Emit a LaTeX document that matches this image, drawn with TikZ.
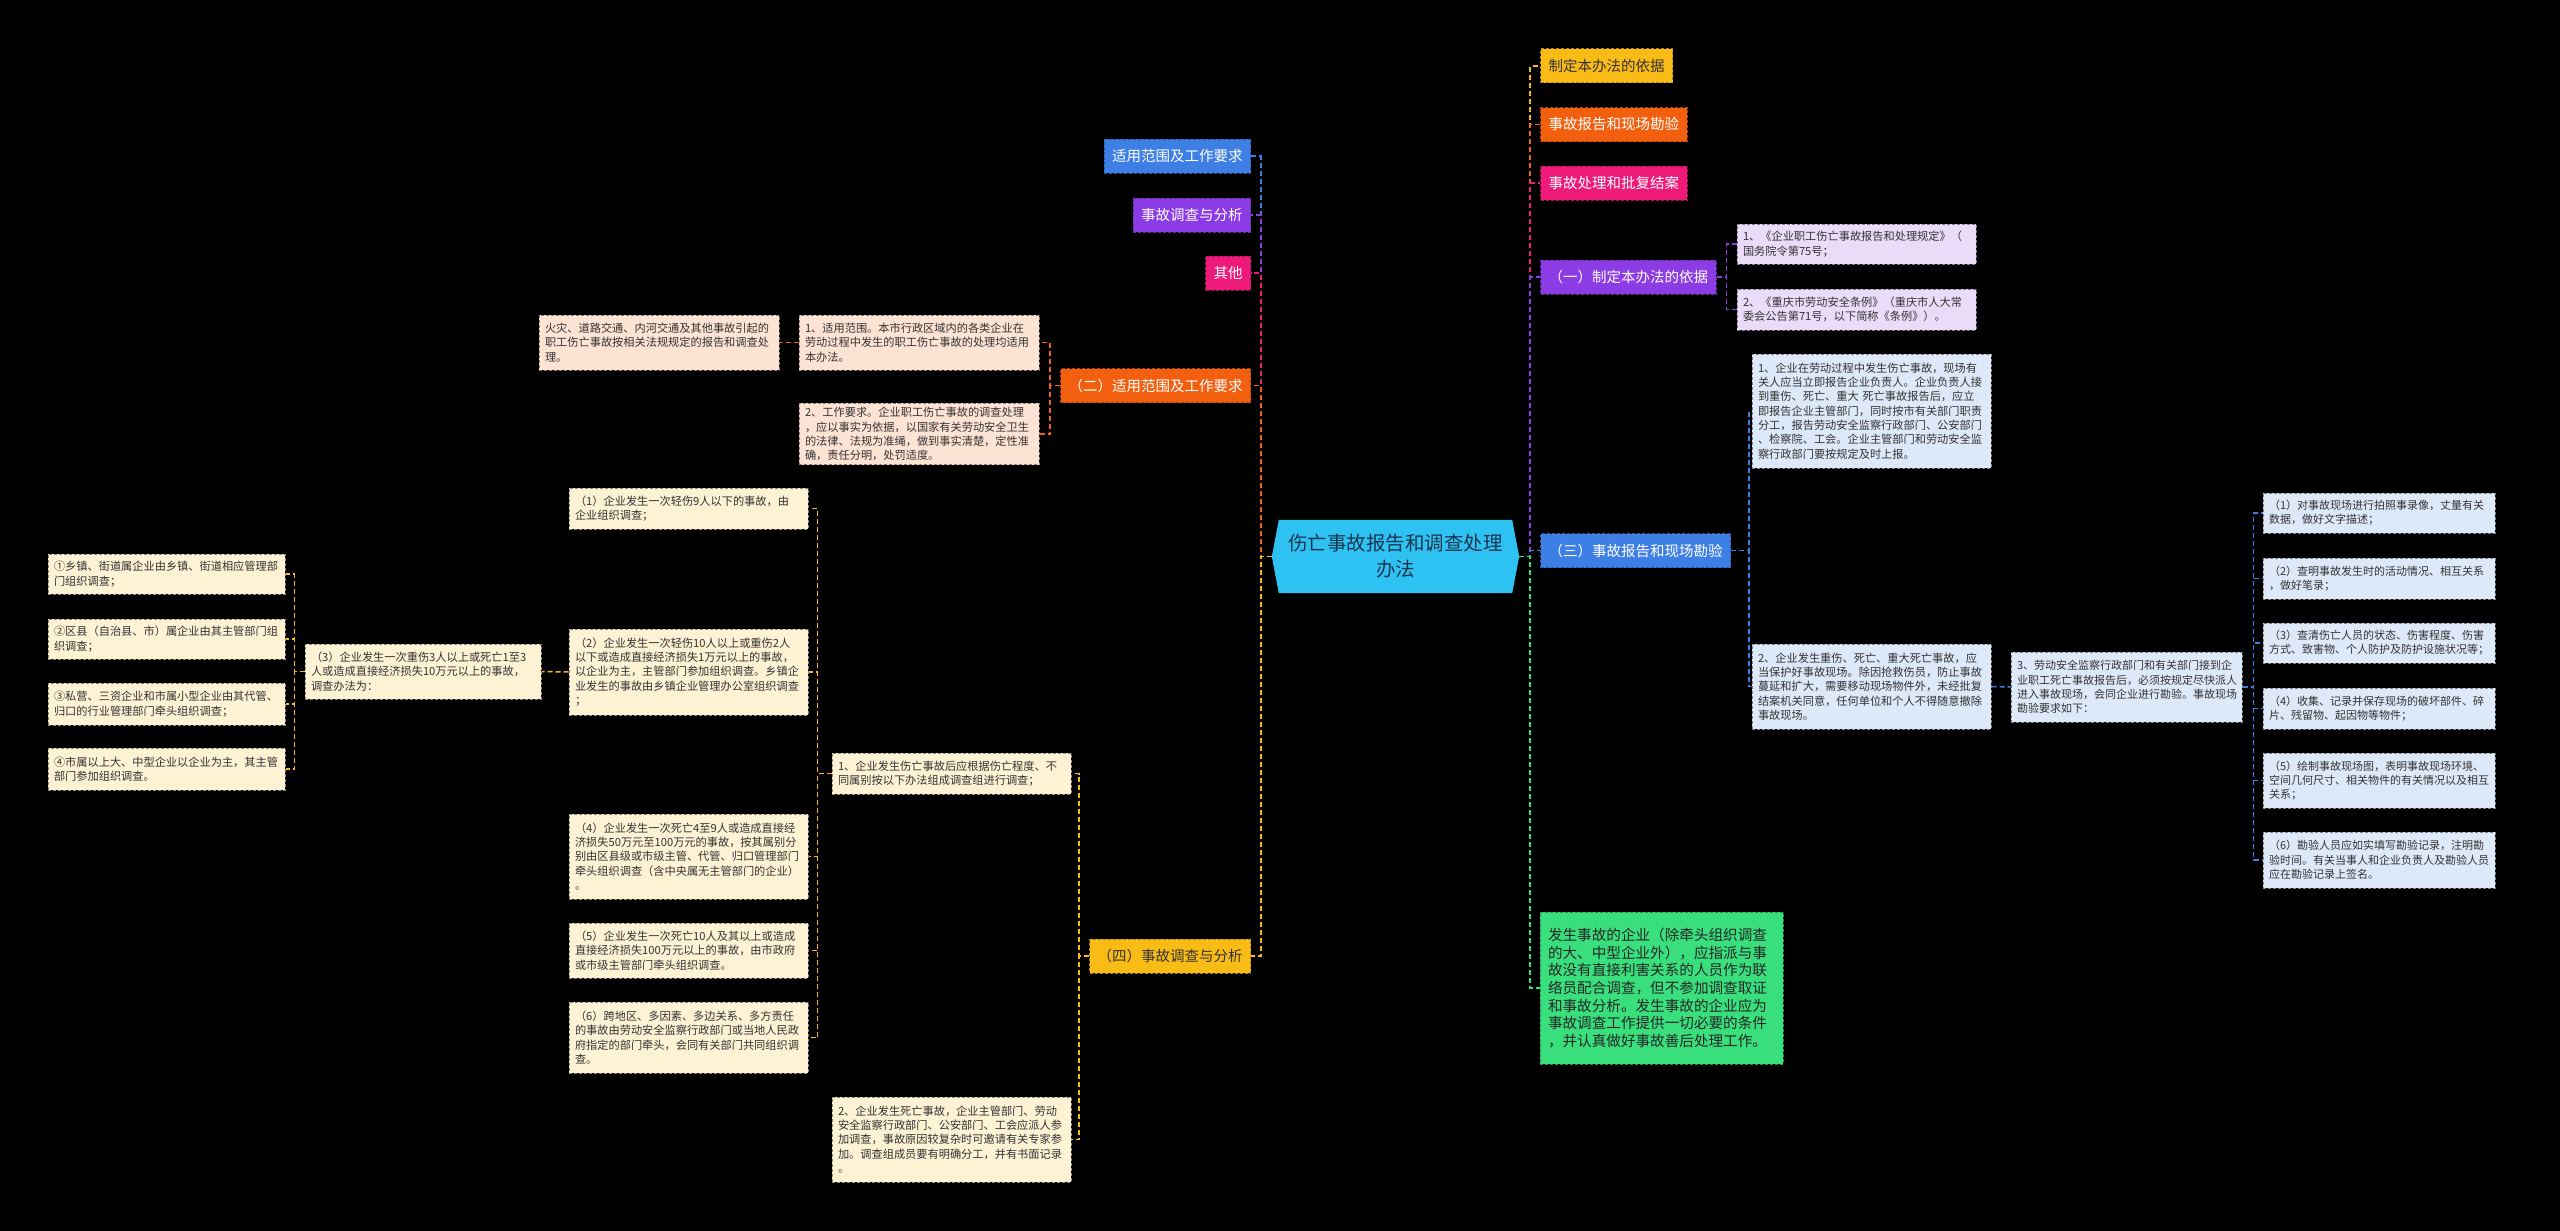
\documentclass[tikz,border=0pt]{standalone}
\usepackage{fontspec}
\setmainfont{Noto Sans CJK SC}
\pgfdeclarelayer{bg}
\pgfsetlayers{bg,main}
\definecolor{cBlue}{HTML}{3E7FE6}
\definecolor{cPurple}{HTML}{8C3CE4}
\definecolor{cPink}{HTML}{EE1A7A}
\definecolor{cOrange}{HTML}{F2600F}
\definecolor{cYellow}{HTML}{F9BC16}
\definecolor{cGreen}{HTML}{38DF7C}
\definecolor{cRoot}{HTML}{2EC2F2}
\definecolor{rootTxt}{HTML}{1B3550}
\definecolor{fPeach}{HTML}{FDE3D4}
\definecolor{fCream}{HTML}{FEF2D4}
\definecolor{fLav}{HTML}{EADCF8}
\definecolor{fSky}{HTML}{DDE8F8}
\definecolor{txt}{HTML}{333333}
\tikzset{
  conn/.style={line width=1.5pt, dash pattern=on 5pt off 3pt},
  lvl/.style={fill=#1, draw=#1!70!black, dash pattern=on 3pt off 2pt, line width=1pt,
    minimum height=34pt, inner xsep=8pt, inner ysep=0pt, text=white,
    font=\fontsize{14.5}{17}\selectfont},
  leaf/.style={fill=#1, draw=#1!55!black, dash pattern=on 3pt off 2pt, line width=1pt,
    text=txt, align=left, inner xsep=6pt, inner ysep=4pt,
    font=\fontsize{11.2}{14.3}\selectfont},
  small/.style={font=\fontsize{11}{14.3}\selectfont}
}
\begin{document}
\begin{tikzpicture}[x=1pt,y=-1pt]
\begin{pgfonlayer}{bg}
\fill[black] (0,0) rectangle (2560,1231);
\end{pgfonlayer}
\useasboundingbox (0,0) rectangle (2560,1231);

% root
\node[minimum width=247pt, minimum height=73pt, align=center, text=rootTxt,
  font=\fontsize{19.5}{26}\selectfont] (root) at (1395.5,556.5) {伤亡事故报告和调查处理\\办法};
\begin{pgfonlayer}{bg}
\fill[cRoot] ([xshift=7pt]root.north west) -- ([xshift=-7pt]root.north east) -- (root.east)
  -- ([xshift=-7pt]root.south east) -- ([xshift=7pt]root.south west) -- (root.west) -- cycle;
\end{pgfonlayer}

% left level 1
\node[lvl=cBlue, anchor=east] (L1) at (1251,156) {适用范围及工作要求};
\node[lvl=cPurple, anchor=east] (L2) at (1251,215) {事故调查与分析};
\node[lvl=cPink, anchor=east] (L3) at (1251,273) {其他};
\node[lvl=cOrange, anchor=east] (L4) at (1251,385.5) {（二）适用范围及工作要求};
\node[lvl=cYellow, anchor=east, text=txt] (L5) at (1251,956) {（四）事故调查与分析};

% right level 1
\node[lvl=cYellow, anchor=west, text=txt] (R1) at (1540,66) {制定本办法的依据};
\node[lvl=cOrange, anchor=west] (R2) at (1540,124.5) {事故报告和现场勘验};
\node[lvl=cPink, anchor=west] (R3) at (1540,183) {事故处理和批复结案};
\node[lvl=cPurple, anchor=west] (R4) at (1540,277) {（一）制定本办法的依据};
\node[lvl=cBlue, anchor=west] (R5) at (1540,550.5) {（三）事故报告和现场勘验};
\node[fill=cGreen, draw=cGreen!65!black, dash pattern=on 3pt off 2pt, line width=1pt,
  text=black!85, align=left, inner xsep=8pt, text width=227pt, minimum height=152pt,
  font=\fontsize{14.6}{17.7}\selectfont] (R6) at (1661.5,988)
  {发生事故的企业（除牵头组织调查\\的大、中型企业外），应指派与事\\故没有直接利害关系的人员作为联\\络员配合调查，但不参加调查取证\\和事故分析。发生事故的企业应为\\事故调查工作提供一切必要的条件\\，并认真做好事故善后处理工作。};

% (二) branch
\node[leaf=fPeach, text width=228pt, minimum height=55pt] (e1) at (919,342.5)
  {1、适用范围。本市行政区域内的各类企业在\\劳动过程中发生的职工伤亡事故的处理均适用\\本办法。};
\node[leaf=fPeach, text width=228pt, minimum height=60pt] (e2) at (919,434)
  {2、工作要求。企业职工伤亡事故的调查处理\\，应以事实为依据，以国家有关劳动安全卫生\\的法律、法规为准绳，做到事实清楚，定性准\\确，责任分明，处罚适度。};
\node[leaf=fPeach, text width=228pt, minimum height=55pt] (e3) at (659,342.5)
  {火灾、道路交通、内河交通及其他事故引起的\\职工伤亡事故按相关法规规定的报告和调查处\\理。};

% (四) branch
\node[leaf=fCream, text width=227pt, minimum height=41pt] (f1) at (951.5,773.5)
  {1、企业发生伤亡事故后应根据伤亡程度、不\\同属别按以下办法组成调查组进行调查；};
\node[leaf=fCream, text width=227pt, minimum height=85pt] (f2) at (951.5,1139.5)
  {2、企业发生死亡事故，企业主管部门、劳动\\安全监察行政部门、公安部门、工会应派人参\\加调查，事故原因较复杂时可邀请有关专家参\\加。调查组成员要有明确分工，并有书面记录\\。};
\node[leaf=fCream, text width=227pt, minimum height=41pt] (g1) at (688.5,508.5)
  {（1）企业发生一次轻伤9人以下的事故，由\\企业组织调查；};
\node[leaf=fCream, text width=227pt, minimum height=86pt] (g2) at (688.5,672)
  {（2）企业发生一次轻伤10人以上或重伤2人\\以下或造成直接经济损失1万元以上的事故，\\以企业为主，主管部门参加组织调查。乡镇企\\业发生的事故由乡镇企业管理办公室组织调查\\；};
\node[leaf=fCream, text width=224pt, minimum height=55pt] (g3) at (423,671.5)
  {（3）企业发生一次重伤3人以上或死亡1至3\\人或造成直接经济损失10万元以上的事故，\\调查办法为：};
\node[leaf=fCream, text width=227pt, minimum height=85pt] (g4) at (688.5,856.5)
  {（4）企业发生一次死亡4至9人或造成直接经\\济损失50万元至100万元的事故，按其属别分\\别由区县级或市级主管、代管、归口管理部门\\牵头组织调查（含中央属无主管部门的企业）\\。};
\node[leaf=fCream, text width=227pt, minimum height=55pt] (g5) at (688.5,950.5)
  {（5）企业发生一次死亡10人及其以上或造成\\直接经济损失100万元以上的事故，由市政府\\或市级主管部门牵头组织调查。};
\node[leaf=fCream, text width=227pt, minimum height=71pt] (g6) at (688.5,1037.5)
  {（6）跨地区、多因素、多边关系、多方责任\\的事故由劳动安全监察行政部门或当地人民政\\府指定的部门牵头，会同有关部门共同组织调\\查。};
\node[leaf=fCream, text width=225pt, minimum height=40pt] (h1) at (166.5,574)
  {①乡镇、街道属企业由乡镇、街道相应管理部\\门组织调查；};
\node[leaf=fCream, text width=225pt, minimum height=40pt] (h2) at (166.5,639)
  {②区县（自治县、市）属企业由其主管部门组\\织调查；};
\node[leaf=fCream, text width=225pt, minimum height=42pt] (h3) at (166.5,704)
  {③私营、三资企业和市属小型企业由其代管、\\归口的行业管理部门牵头组织调查；};
\node[leaf=fCream, text width=225pt, minimum height=42pt] (h4) at (166.5,769)
  {④市属以上大、中型企业以企业为主，其主管\\部门参加组织调查。};

% (一) branch
\node[leaf=fLav, text width=227pt, minimum height=40pt] (p1) at (1856.5,244)
  {1、《企业职工伤亡事故报告和处理规定》（\\国务院令第75号；};
\node[leaf=fLav, text width=227pt, minimum height=41pt] (p2) at (1856.5,309.5)
  {2、《重庆市劳动安全条例》（重庆市人大常\\委会公告第71号，以下简称《条例》）。};

% (三) branch
\node[leaf=fSky, text width=227pt, minimum height=114pt] (b1) at (1871.5,411)
  {1、企业在劳动过程中发生伤亡事故，现场有\\关人应当立即报告企业负责人。企业负责人接\\到重伤、死亡、重大 死亡事故报告后，应立\\即报告企业主管部门，同时按市有关部门职责\\分工，报告劳动安全监察行政部门、公安部门\\、检察院、工会。企业主管部门和劳动安全监\\察行政部门要按规定及时上报。};
\node[leaf=fSky, text width=227pt, minimum height=85pt] (b2) at (1871.5,686.5)
  {2、企业发生重伤、死亡、重大死亡事故，应\\当保护好事故现场。除因抢救伤员，防止事故\\蔓延和扩大，需要移动现场物件外，未经批复\\结案机关同意，任何单位和个人不得随意撤除\\事故现场。};
\node[leaf=fSky, small, text width=219pt, minimum height=70pt] (b3) at (2126.5,687)
  {3、劳动安全监察行政部门和有关部门接到企\\业职工死亡事故报告后，必须按规定尽快派人\\进入事故现场，会同企业进行勘验。事故现场\\勘验要求如下：};
\node[leaf=fSky, small, text width=220pt, minimum height=40pt] (c1) at (2379,513)
  {（1）对事故现场进行拍照事录像，丈量有关\\数据，做好文字描述；};
\node[leaf=fSky, small, text width=220pt, minimum height=41pt] (c2) at (2379,578.5)
  {（2）查明事故发生时的活动情况、相互关系\\，做好笔录；};
\node[leaf=fSky, small, text width=220pt, minimum height=40pt] (c3) at (2379,643)
  {（3）查清伤亡人员的状态、伤害程度、伤害\\方式、致害物、个人防护及防护设施状况等；};
\node[leaf=fSky, small, text width=220pt, minimum height=41pt] (c4) at (2379,708.5)
  {（4）收集、记录并保存现场的破坏部件、碎\\片、残留物、起因物等物件；};
\node[leaf=fSky, small, text width=220pt, minimum height=55pt] (c5) at (2379,780.5)
  {（5）绘制事故现场图，表明事故现场环境、\\空间几何尺寸、相关物件的有关情况以及相互\\关系；};
\node[leaf=fSky, small, text width=220pt, minimum height=56pt] (c6) at (2379,860)
  {（6）勘验人员应如实填写勘验记录，注明勘\\验时间。有关当事人和企业负责人及勘验人员\\应在勘验记录上签名。};

% connectors: root to level 1
\draw[conn, cBlue] (root.west) -- ++(-11,0) |- (L1.east);
\draw[conn, cPurple] (root.west) -- ++(-11,0) |- (L2.east);
\draw[conn, cPink] (root.west) -- ++(-11,0) |- (L3.east);
\draw[conn, cOrange] (root.west) -- ++(-11,0) |- (L4.east);
\draw[conn, cYellow] (root.west) -- ++(-11,0) |- (L5.east);
\draw[conn, cYellow] (root.east) -- ++(11,0) |- (R1.west);
\draw[conn, cOrange] (root.east) -- ++(11,0) |- (R2.west);
\draw[conn, cPink] (root.east) -- ++(11,0) |- (R3.west);
\draw[conn, cPurple] (root.east) -- ++(11,0) |- (R4.west);
\draw[conn, cBlue] (root.east) -- ++(11,0) |- (R5.west);
\draw[conn, cGreen] (root.east) -- ++(11,0) |- (R6.west);

% (二)
\draw[conn, cOrange] (L4.west) -- ++(-10,0) |- (e1.east);
\draw[conn, cOrange] (L4.west) -- ++(-10,0) |- (e2.east);
\draw[conn, cOrange] (e1.west) -- (e3.east);
% (四)
\draw[conn, cYellow] (L5.west) -- ++(-10,0) |- (f1.east);
\draw[conn, cYellow] (L5.west) -- ++(-10,0) |- (f2.east);
\foreach \g in {g1,g2,g4,g5,g6}
  \draw[conn, cYellow] (f1.west) -- ++(-14,0) |- (\g.east);
\draw[conn, cYellow] (g2.west) -- (g3.east);
\foreach \h in {h1,h2,h3,h4}
  \draw[conn, cYellow] (g3.west) -- ++(-10,0) |- (\h.east);
% (一)
\draw[conn, cPurple] (R4.east) -- ++(10,0) |- (p1.west);
\draw[conn, cPurple] (R4.east) -- ++(10,0) |- (p2.west);
% (三)
\draw[conn, cBlue] (R5.east) -- ++(18,0) |- (b1.west);
\draw[conn, cBlue] (R5.east) -- ++(18,0) |- (b2.west);
\draw[conn, cBlue] (b2.east) -- (b3.west);
\foreach \c in {c1,c2,c3,c4,c5,c6}
  \draw[conn, cBlue] (b3.east) -- ++(11,0) |- (\c.west);
\end{tikzpicture}
\end{document}
